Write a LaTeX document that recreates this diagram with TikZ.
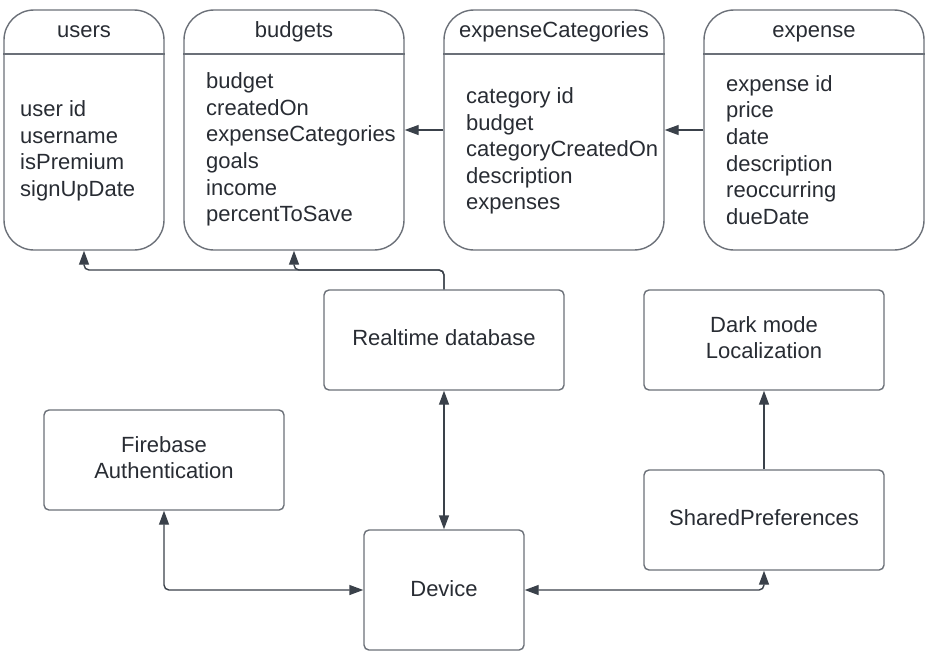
\documentclass[tikz,border=0pt]{standalone}
\usepackage{fontspec}
\setmainfont{Liberation Sans}
\usetikzlibrary{arrows.meta}
\definecolor{txt}{HTML}{282C33}
\definecolor{edge}{HTML}{3A414A}
\definecolor{frame}{HTML}{6B7078}
\tikzset{
  table/.style={draw=frame, line width=1.4pt, rounded corners=30pt, minimum width=#1, minimum height=240pt, inner sep=0pt},
  tableline/.style={draw=frame, line width=1.4pt},
  head/.style={font=\fontsize{22}{26.6}\selectfont, text=txt, inner sep=0pt, anchor=base},
  list/.style={font=\fontsize{22}{26.6}\selectfont, text=txt, align=left, anchor=west, inner sep=0pt},
  box/.style={draw=frame, line width=1.4pt, rounded corners=5pt, minimum width=240pt, minimum height=100pt, align=center, font=\fontsize{22}{26.6}\selectfont, text=txt},
  conn/.style={draw=edge, line width=1.4pt, rounded corners=5pt},
  tip/.style={-{Triangle[length=14pt,width=10pt]}},
  tips/.style={{Triangle[length=14pt,width=10pt]}-{Triangle[length=14pt,width=10pt]}}
}
\begin{document}
\begin{tikzpicture}[x=1pt,y=-1pt]
\useasboundingbox (0,0) rectangle (936,659);
% tables
\node[table=160pt] (users) at (84,130) {};
\node[table=220pt] (budgets) at (294,130) {};
\node[table=220pt] (cats) at (554,130) {};
\node[table=220pt] (expense) at (814,130) {};
\foreach \t in {users,budgets,cats,expense}
  \draw[tableline] (\t.west |- 0,54) -- (\t.east |- 0,54);
\node[head] (usersh) at (84,37) {users};
\node[head] (budgetsh) at (294,37) {budgets};
\node[head] (catsh) at (554,37) {expenseCategories};
\node[head] (expenseh) at (814,37) {expense};
\node[list] (usersl) at (20,151) {user id\\username\\isPremium\\signUpDate};
\node[list] (budgetsl) at (206,149.5) {budget\\createdOn\\expenseCategories\\goals\\income\\percentToSave};
\node[list] (catsl) at (466,151) {category id\\budget\\categoryCreatedOn\\description\\expenses};
\node[list] (expensel) at (726,150) {expense id\\price\\date\\description\\reoccurring\\dueDate};
% boxes
\node[box] (rtdb) at (444,340) {\raisebox{5pt}{Realtime database}};
\node[box] (dark) at (764,340) {Dark mode\\Localization\rule[-5pt]{0pt}{0pt}};
\node[box] (auth) at (164,460) {Firebase\\Authentication\rule[-5pt]{0pt}{0pt}};
\node[box] (shared) at (764,520) {\raisebox{5pt}{SharedPreferences}};
\node[box, minimum width=160pt, minimum height=120pt] (device) at (444,590) {\raisebox{2pt}{Device}};
% connectors
\coordinate (j) at (444,270);
\draw[conn, tip] (cats.west) -- (budgets.east);
\draw[conn, tip] (expense.west) -- (cats.east);
\draw[conn, tip] (rtdb.north) -- (j) -| (users.south);
\draw[conn, tip] (rtdb.north) -- (j) -| (budgets.south);
\draw[conn, tips] (rtdb.south) -- (device.north);
\draw[conn, tips] (auth.south) |- (device.west);
\draw[conn, tips] (device.east) -| (shared.south);
\draw[conn, tip] (shared.north) -- (dark.south);
\end{tikzpicture}
\end{document}
